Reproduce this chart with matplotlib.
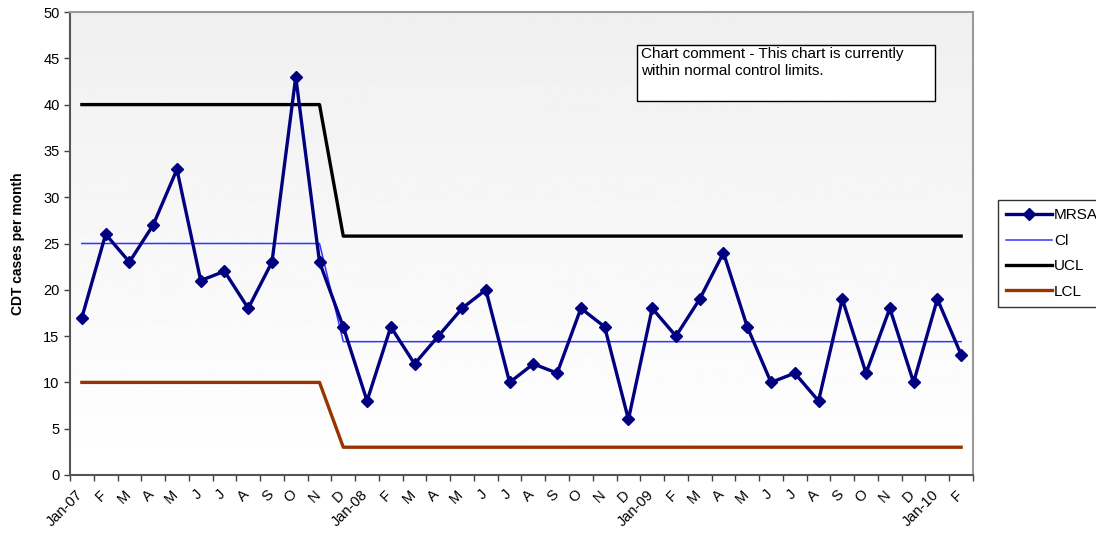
import matplotlib
matplotlib.use('Agg')
import matplotlib.pyplot as plt
import matplotlib.transforms as mtransforms
from matplotlib.patches import Rectangle
import numpy as np

plt.rcParams['font.family'] = ['Liberation Sans', 'DejaVu Sans']

# ── Data ───────────────────────────────────────────────────────────────
months = ["Jan-07", "F", "M", "A", "M", "J", "J", "A", "S", "O", "N", "D",
          "Jan-08", "F", "M", "A", "M", "J", "J", "A", "S", "O", "N", "D",
          "Jan-09", "F", "M", "A", "M", "J", "J", "A", "S", "O", "N", "D",
          "Jan-10", "F"]
mrsa = [17, 26, 23, 27, 33, 21, 22, 18, 23, 43, 23, 16,
        8, 16, 12, 15, 18, 20, 10, 12, 11, 18, 16, 6,
        18, 15, 19, 24, 16, 10, 11, 8, 19, 11, 18, 10,
        19, 13]
cl = [25.0] * 11 + [14.4] * 27
ucl = [40.0] * 11 + [25.8] * 27
lcl = [10.0] * 11 + [3.0] * 27
comment = "Chart comment - This chart is currently\nwithin normal control limits."

# ── Figure ─────────────────────────────────────────────────────────────
fig = plt.figure(figsize=(10.96, 5.35), dpi=100)
ax = fig.add_axes([70 / 1096, 60 / 535, 903 / 1096, 463 / 535])

x = np.arange(len(months))

# gradient background (light grey top -> white bottom)
grad = np.linspace(0.94, 1.0, 256).reshape(-1, 1)
ax.imshow(grad, cmap='gray', vmin=0, vmax=1, aspect='auto', origin='upper',
          extent=[0, 1, 0, 1], transform=ax.transAxes, zorder=0)

ax.plot(x, cl, color='#3333ff', lw=1.1, zorder=2, label='Cl')
ax.plot(x, ucl, color='black', lw=2.4, zorder=2, label='UCL')
ax.plot(x, lcl, color='#993300', lw=2.4, zorder=2, label='LCL')
ax.plot(x, mrsa, color='#000080', lw=2.4, marker='D', ms=6.5, zorder=3, label='MRSA')

ax.set_xlim(-0.5, len(months) - 0.5)
ax.set_ylim(0, 50)
ax.set_yticks(np.arange(0, 51, 5))
ax.set_xticks(x)
ax.set_xticklabels(months, rotation=45, ha='right', va='top', rotation_mode='anchor')
ax.set_xticks(np.arange(-0.5, len(months), 1), minor=True)
ax.tick_params(axis='x', which='major', length=0, pad=9, labelsize=10.5)
ax.tick_params(axis='x', which='minor', length=4, width=1, color='#404040')
ax.tick_params(axis='y', length=4, width=1, color='#404040', labelsize=10.5)
ax.set_ylabel("CDT cases per month", fontsize=10, fontweight='bold', labelpad=13)

# nudge rotated month labels left, like the original
shift = mtransforms.ScaledTranslation(-6 / 100, 0, fig.dpi_scale_trans)
for lab in ax.get_xticklabels():
    lab.set_transform(lab.get_transform() + shift)

for side in ['left', 'bottom']:
    ax.spines[side].set_color('#555555')
    ax.spines[side].set_linewidth(1.5)
for side in ['top', 'right']:
    ax.spines[side].set_color('#999999')
    ax.spines[side].set_linewidth(1.5)

# comment box
fig.patches.append(Rectangle((637 / 1096, (535 - 101) / 535), 298 / 1096, 56 / 535,
                             transform=fig.transFigure, facecolor='white',
                             edgecolor='black', lw=1, zorder=5))
fig.text(641 / 1096, (535 - 47) / 535, comment, fontsize=11, va='top', ha='left',
         linespacing=1.3, zorder=6)

# legend outside plot area
h, l = ax.get_legend_handles_labels()
order = [3, 0, 1, 2]
leg = fig.legend([h[i] for i in order], [l[i] for i in order],
                 loc='upper left', bbox_to_anchor=(998 / 1096, (535 - 200) / 535),
                 fontsize=11, frameon=True, fancybox=False, handlelength=3,
                 handletextpad=0.1, borderpad=0.55, labelspacing=0.75,
                 borderaxespad=0)
leg.get_frame().set_edgecolor('black')
leg.get_frame().set_linewidth(1)

plt.savefig("out.png", dpi=100)
